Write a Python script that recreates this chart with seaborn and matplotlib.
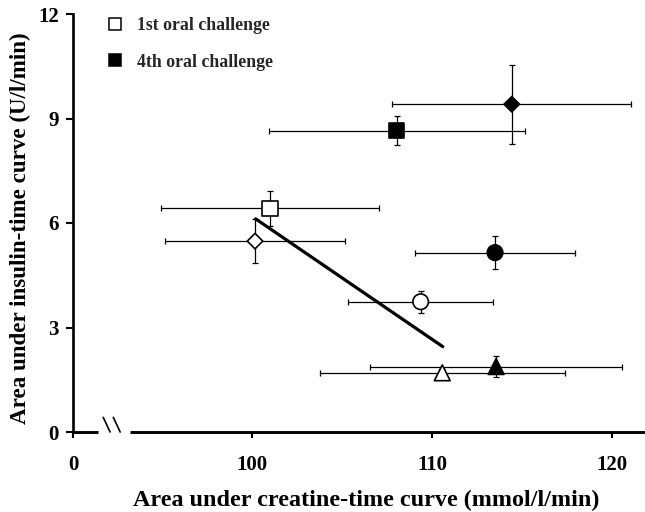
import matplotlib
matplotlib.use("Agg")
import matplotlib.pyplot as plt
from matplotlib.lines import Line2D
import seaborn as sns
import pandas as pd

# ---- data ----
shapes      = ["square", "diamond", "circle", "triangle"]
first_x     = [101.0, 100.17, 109.37, 110.57]
first_y     = [6.42, 5.48, 3.74, 1.70]
first_xerr  = [6.07, 5.02, 4.04, 6.80]
first_yerr  = [0.51, 0.63, 0.32, 0.12]
fourth_x    = [108.04, 114.43, 113.50, 113.56]
fourth_y    = [8.65, 9.41, 5.15, 1.88]
fourth_xerr = [7.10, 6.63, 4.45, 6.99]
fourth_yerr = [0.41, 1.14, 0.48, 0.30]
reg_x = [100.2, 110.6]
reg_y = [6.12, 2.45]
legend_labels = ["1st oral challenge", "4th oral challenge"]
xtick_pos = [90.06, 100, 110, 120]
xtick_labels = ["0", "100", "110", "120"]
yticks = [0, 3, 6, 9, 12]

sns.set_theme(style="ticks")
plt.rcParams["font.family"] = ["Liberation Serif", "DejaVu Serif"]
plt.rcParams["font.weight"] = "bold"

df = pd.DataFrame({
    "x": first_x + fourth_x,
    "y": first_y + fourth_y,
    "xerr": first_xerr + fourth_xerr,
    "yerr": first_yerr + fourth_yerr,
    "shape": shapes + shapes,
    "challenge": [legend_labels[0]] * 4 + [legend_labels[1]] * 4,
})

W, H = 645, 512
fig = plt.figure(figsize=(W / 100, H / 100), dpi=100)
ax = fig.add_axes([73 / W, (H - 432) / H, (W - 73) / W, (432 - 14) / H])

ax.errorbar(df["x"], df["y"], xerr=df["xerr"], yerr=df["yerr"], fmt="none",
            ecolor="black", elinewidth=0.9, capsize=2.5, capthick=0.9, zorder=2)

sns.lineplot(x=reg_x, y=reg_y, color="black", linewidth=2.3, ax=ax, zorder=2.5)

sns.scatterplot(data=df, x="x", y="y", hue="challenge", style="shape", size="shape",
                palette={legend_labels[0]: "white", legend_labels[1]: "black"},
                markers={"square": "s", "diamond": "D", "circle": "o", "triangle": "^"},
                sizes={"square": 125, "diamond": 62, "circle": 125, "triangle": 130},
                edgecolor="black", linewidth=1.2, legend=False, ax=ax, zorder=3)

xmin, xmax = 90.06, 121.83
ax.set_xlim(xmin, xmax)
ax.set_ylim(0, 12)

# axes styling
ax.spines["top"].set_visible(False)
ax.spines["right"].set_visible(False)
ax.spines["bottom"].set_visible(False)
ax.spines["left"].set_linewidth(1.9)
ax.spines["left"].set_color("black")

# broken x axis line
ax.plot([xmin, 91.45], [0, 0], color="black", lw=2.1, clip_on=False, zorder=4,
        solid_capstyle="butt")
ax.plot([93.23, xmax], [0, 0], color="black", lw=2.1, clip_on=False, zorder=4,
        solid_capstyle="butt")
for x0 in (91.74, 92.30):
    ax.plot([x0, x0 + 0.38], [0.42, 0.0], color="black", lw=1.2, clip_on=False, zorder=4)

ax.set_xticks(xtick_pos)
ax.set_xticklabels(xtick_labels)
ax.set_yticks(yticks)
ax.set_yticklabels([str(v) for v in yticks])
ax.tick_params(axis="x", direction="out", length=4.5, width=1.5, pad=12,
               labelsize=15, colors="black")
ax.tick_params(axis="y", direction="out", length=5, width=1.5, pad=5,
               labelsize=15, colors="black")
for lab in ax.get_xticklabels() + ax.get_yticklabels():
    lab.set_fontweight("bold")

ax.set_xlabel("Area under creatine-time curve (mmol/l/min)", fontsize=17.4,
              fontweight="bold", color="black")
ax.set_ylabel("Area under insulin-time curve (U/l/min)", fontsize=16.6,
              fontweight="bold", color="black")
ax.xaxis.set_label_coords((366 - 73) / 572, -(500 - 432) / 418, transform=ax.transAxes)
ax.xaxis.label.set_va("center")
ax.yaxis.set_label_coords(-(73 - 20) / 572, (432 - 228) / 418, transform=ax.transAxes)
ax.yaxis.label.set_va("center")

handles = [
    Line2D([], [], marker="s", linestyle="none", markersize=9,
           markerfacecolor="white", markeredgecolor="black", markeredgewidth=1.1),
    Line2D([], [], marker="s", linestyle="none", markersize=9,
           markerfacecolor="black", markeredgecolor="black", markeredgewidth=1.1),
]
leg = ax.legend(handles, legend_labels, loc="upper left",
                bbox_to_anchor=((106.5 - 73) / 572, (432 - 17) / 418),
                frameon=False, borderaxespad=0, borderpad=0, handlelength=1.0,
                handletextpad=0.7, labelspacing=1.1,
                prop={"family": "Liberation Serif", "weight": "bold", "size": 12.8})

fig.savefig("out.png", dpi=100, facecolor="white")
